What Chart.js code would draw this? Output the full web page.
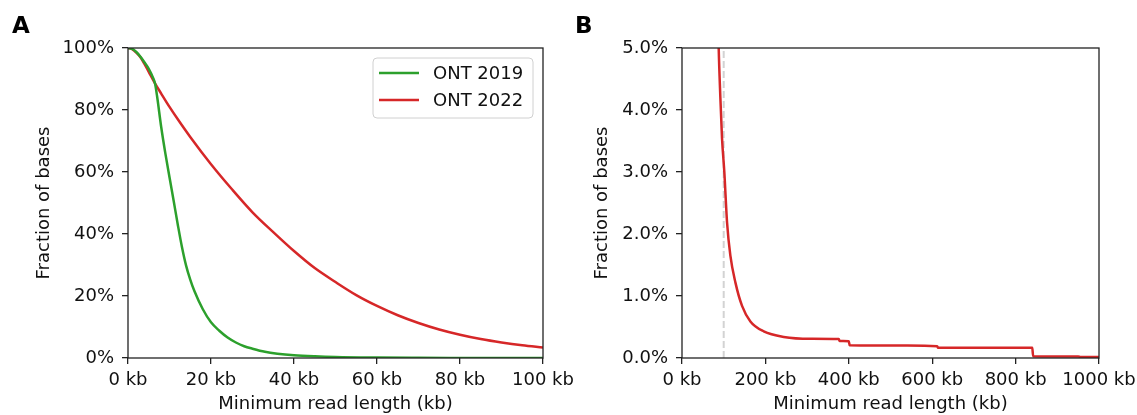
<!DOCTYPE html>
<html>
<head>
<meta charset="utf-8">
<script src="https://cdn.jsdelivr.net/npm/chart.js@4"></script>
<style>
  body { margin: 0; background: #fff; }
  #wrap { position: relative; width: 1137px; height: 415px; overflow: hidden; }
  canvas { position: absolute; top: 0; }
  .panel { position: absolute; font: bold 23px "DejaVu Sans"; color: #000; }
</style>
</head>
<body>
<div id="wrap">
  <canvas id="chartA" width="600" height="415" style="left:0"></canvas>
  <canvas id="chartB" width="577" height="415" style="left:560px"></canvas>
  <div class="panel" style="left:12px; top:12px">A</div>
  <div class="panel" style="left:575px; top:12px">B</div>
</div>
<script>
// panel A : fraction of bases vs min read length (kb)
const len2019 = [0, 1, 2, 3, 4, 5, 6, 6.5, 7, 8, 9, 10, 11, 12, 13, 14, 15, 16, 18, 20, 22, 24, 26, 28, 30, 33, 36, 40, 45, 50, 60, 70, 80, 90, 100];
const frac2019 = [100, 99.7, 98.7, 97.2, 95.3, 93.3, 90.5, 88.6, 84.5, 74.5, 66, 58.3, 50.7, 43, 35.8, 29.8, 25.3, 21.6, 15.8, 11.5, 8.8, 6.6, 5, 3.8, 3, 2, 1.4, 0.9, 0.55, 0.33, 0.15, 0.07, 0.03, 0.01, 0];
const len2022 = [0, 1, 2, 3, 4, 5, 6.5, 8, 10, 12, 15, 20, 25, 30, 35, 40, 45, 50, 55, 60, 65, 70, 75, 80, 85, 90, 95, 100];
const frac2022 = [100, 99.6, 98.5, 97, 94.8, 92.3, 88.6, 85.3, 81, 77, 71.3, 62.5, 54.5, 47, 40.6, 34.5, 29, 24.5, 20.3, 16.8, 13.8, 11.3, 9.2, 7.5, 6.1, 5, 4.1, 3.4];

// panel B : tail of ONT 2022, up to 1000 kb
const lenB = [80, 85, 88, 92, 96, 101.5, 108, 116, 128, 144, 164, 196, 244, 308, 376, 378, 400, 402, 540, 612, 614, 840, 842, 950, 956, 1000];
const fracB = [7.5, 6.0, 5.0, 4.2, 3.54, 3.0, 2.19, 1.65, 1.22, 0.84, 0.59, 0.43, 0.34, 0.31, 0.305, 0.275, 0.27, 0.205, 0.2, 0.19, 0.165, 0.165, 0.03, 0.025, 0.018, 0.015];
const cutoffKb = 100;

const ticksA_x = [0, 20, 40, 60, 80, 100];
const ticksA_y = [0, 20, 40, 60, 80, 100];
const ticksB_x = [0, 200, 400, 600, 800, 1000];
const ticksB_y = [0, 1, 2, 3, 4, 5];

const GREEN = "#2ca02c";
const RED = "#d62728";
const INK = "#111";
const FONT = "DejaVu Sans";

function pts(xs, ys) {
    return xs.map((x, i) => ({ x: x, y: ys[i] }));
}

// frame on all four sides like matplotlib spines
const framePlugin = {
    id: "frame",
    afterDatasetsDraw(chart) {
        const a = chart.chartArea;
        const ctx = chart.ctx;
        ctx.save();
        ctx.strokeStyle = "#222";
        ctx.lineWidth = 1.3;
        ctx.strokeRect(a.left, a.top, a.right - a.left, a.bottom - a.top);
        ctx.restore();
    }
};

// legend box inside the plot, top right
const boxLegend = {
    id: "boxLegend",
    afterDraw(chart, args, opts) {
        if (!opts.show) return;
        const ctx = chart.ctx;
        const x = 373, y = 58, w = 160, h = 60, r = 4;
        ctx.save();
        ctx.beginPath();
        ctx.roundRect(x, y, w, h, r);
        ctx.fillStyle = "rgba(255,255,255,0.8)";
        ctx.fill();
        ctx.strokeStyle = "#d0d0d0";
        ctx.lineWidth = 1;
        ctx.stroke();
        ctx.font = "18px " + FONT;
        ctx.textBaseline = "middle";
        chart.data.datasets.forEach((ds, i) => {
            const ly = 73 + i * 27;
            ctx.strokeStyle = ds.borderColor;
            ctx.lineWidth = 2.5;
            ctx.beginPath();
            ctx.moveTo(379, ly);
            ctx.lineTo(419, ly);
            ctx.stroke();
            ctx.fillStyle = INK;
            ctx.fillText(ds.label, 433, ly + 1);
        });
        ctx.restore();
    }
};

function makeScales(cfg) {
    return {
        x: {
            type: "linear",
            min: cfg.xmin, max: cfg.xmax,
            afterBuildTicks: (s) => { s.ticks = cfg.xticks.map(v => ({ value: v })); },
            afterFit: (s) => { s.height = 57; s.paddingLeft = 0; s.paddingRight = 0; },
            grid: { drawOnChartArea: false, drawTicks: true, tickLength: 6, color: "#222", lineWidth: 1.3 },
            border: { display: false },
            ticks: {
                color: INK, font: { family: FONT, size: 18 }, padding: 6, maxRotation: 0,
                autoSkip: false,
                callback: (v) => v + " kb"
            },
            title: {
                display: true, text: "Minimum read length (kb)", color: INK,
                font: { family: FONT, size: 18 }, padding: { top: 0, bottom: 0 }
            }
        },
        y: {
            min: cfg.ymin, max: cfg.ymax,
            afterBuildTicks: (s) => { s.ticks = cfg.yticks.map(v => ({ value: v })); },
            afterFit: (s) => { s.width = cfg.yw; s.paddingTop = 0; s.paddingBottom = 0; },
            grid: { drawOnChartArea: false, drawTicks: true, tickLength: 6, color: "#222", lineWidth: 1.3 },
            border: { display: false },
            ticks: {
                color: INK, font: { family: FONT, size: 18 }, padding: 8, autoSkip: false,
                callback: cfg.yfmt
            },
            title: {
                display: true, text: "Fraction of bases", color: INK,
                font: { family: FONT, size: 18 }, padding: { top: cfg.titlePad, bottom: 0 }
            }
        }
    };
}

const chartA = new Chart(document.getElementById("chartA"), {
    type: "line",
    data: {
        datasets: [
            {
                label: "ONT 2019",
                data: pts(len2019, frac2019),
                borderColor: GREEN,
                borderWidth: 2.5,
                pointRadius: 0,
                cubicInterpolationMode: "monotone",
            },
            {
                label: "ONT 2022",
                data: pts(len2022, frac2022),
                borderColor: RED,
                borderWidth: 2.5,
                pointRadius: 0,
                cubicInterpolationMode: "monotone",
            },
        ],
    },
    options: {
        responsive: false,
        animation: false,
        layout: { padding: { left: 0, top: 48, right: 57, bottom: 0 } },
        plugins: { legend: { display: false }, tooltip: { enabled: false }, boxLegend: { show: true } },
        scales: makeScales({
            xmin: 0, xmax: 100, xticks: ticksA_x,
            ymin: 0, ymax: 100, yticks: ticksA_y,
            yw: 128, titlePad: 34,
            yfmt: (v) => v + "%"
        })
    },
    plugins: [framePlugin, boxLegend]
});

const chartB = new Chart(document.getElementById("chartB"), {
    type: "line",
    data: {
        datasets: [
            {
                label: "ONT 2022",
                data: pts(lenB, fracB),
                borderColor: RED,
                borderWidth: 2.5,
                pointRadius: 0,
                cubicInterpolationMode: "monotone",
            },
            {
                label: "cutoff",
                data: [{ x: cutoffKb, y: ticksB_y[0] }, { x: cutoffKb, y: ticksB_y[ticksB_y.length - 1] }],
                borderColor: "#d3d3d3",
                borderWidth: 2,
                borderDash: [7, 3],
                pointRadius: 0,
            },
        ],
    },
    options: {
        responsive: false,
        animation: false,
        layout: { padding: { left: 0, top: 48, right: 38, bottom: 0 } },
        plugins: { legend: { display: false }, tooltip: { enabled: false }, boxLegend: { show: false } },
        scales: makeScales({
            xmin: 0, xmax: 1000, xticks: ticksB_x,
            ymin: 0, ymax: 5, yticks: ticksB_y,
            yw: 122, titlePad: 32,
            yfmt: (v) => v.toFixed(1) + "%"
        })
    },
    plugins: [framePlugin, boxLegend]
});
</script>
</body>
</html>
